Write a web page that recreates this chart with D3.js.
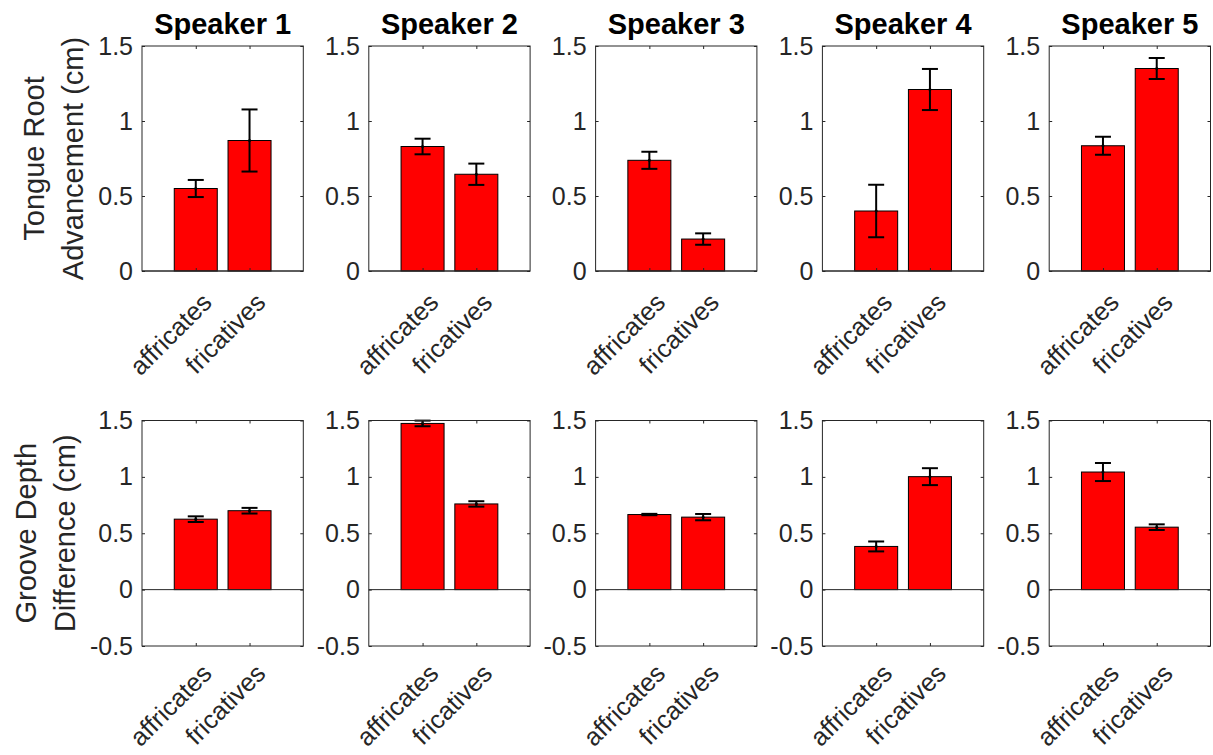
<!DOCTYPE html>
<html>
<head>
<meta charset="utf-8">
<script src="https://cdn.jsdelivr.net/npm/d3@7"></script>
<style>
  body { margin: 0; background: #fff; }
  text { font-family: "Liberation Sans", Arial, Helvetica, sans-serif; }
</style>
</head>
<body>
<div id="chart"></div>
<script>
const speakers = ['Speaker 1', 'Speaker 2', 'Speaker 3', 'Speaker 4', 'Speaker 5']
const categories = ['affricates', 'fricatives']

// tongue root advancement (cm), mean and error per speaker [affricates, fricatives]
const troMeans = [[0.55, 0.87], [0.83, 0.645], [0.738, 0.213], [0.40, 1.21], [0.835, 1.35]]
const troErrs = [[0.057, 0.207], [0.052, 0.071], [0.057, 0.038], [0.175, 0.137], [0.06, 0.07]]

// groove depth difference (cm)
const gddMeans = [[0.625, 0.70], [1.474, 0.76], [0.666, 0.643], [0.383, 1.002], [1.043, 0.554]]
const gddErrs = [[0.025, 0.025], [0.025, 0.024], [0.006, 0.028], [0.044, 0.075], [0.08, 0.025]]

const troTicks = [0, 0.5, 1, 1.5]
const gddTicks = [-0.5, 0, 0.5, 1, 1.5]

const W = 1213, H = 755
const AX = '#262626'

const svg = d3.select('#chart').append('svg')
  .attr('width', W).attr('height', H)

const pw = 161.3      // panel width
const step = 226.8    // left edge spacing
const x0 = 142

const rows = [
  { top: 46, bottom: 271, domain: [0, 1.5], ticks: troTicks, means: troMeans, errs: troErrs,
    label: ['Tongue Root', 'Advancement (cm)'], title: true, lblDy: 33 },
  { top: 420.5, bottom: 646, domain: [-0.5, 1.5], ticks: gddTicks, means: gddMeans, errs: gddErrs,
    label: ['Groove Depth', 'Difference (cm)'], title: false, lblDy: 29 }
]

const x = d3.scaleLinear().domain([0, 3]).range([0, pw])
const fmt = d => (d < 0 ? '-' : '') + String(Math.abs(d))

rows.forEach((row, r) => {
  const ph = row.bottom - row.top
  const y = d3.scaleLinear().domain(row.domain).range([ph, 0])

  speakers.forEach((spk, i) => {
    const g = svg.append('g')
      .attr('transform', 'translate(' + (x0 + i * step) + ',' + row.top + ')')

    const data = categories.map((c, k) => ({ c, k: k + 1, v: row.means[i][k], e: row.errs[i][k] }))

    // bars
    g.append('g').selectAll('rect')
      .data(data)
      .enter().append('rect')
      .attr('x', d => x(d.k - 0.4))
      .attr('width', x(0.8) - x(0))
      .attr('y', d => y(d.v))
      .attr('height', d => y(0) - y(d.v))
      .attr('fill', '#ff0000')
      .attr('stroke', '#000')
      .attr('stroke-width', 1)

    // zero baseline
    g.append('line')
      .attr('x1', 0).attr('x2', pw)
      .attr('y1', y(0)).attr('y2', y(0))
      .attr('stroke', AX).attr('stroke-width', 1)

    // error bars
    const eb = g.append('g').selectAll('g')
      .data(data)
      .enter().append('g')
      .attr('stroke', '#000').attr('stroke-width', 2)
    eb.append('line')
      .attr('x1', d => x(d.k)).attr('x2', d => x(d.k))
      .attr('y1', d => y(d.v - d.e)).attr('y2', d => y(d.v + d.e))
    eb.append('line')
      .attr('x1', d => x(d.k) - 8).attr('x2', d => x(d.k) + 8)
      .attr('y1', d => y(d.v + d.e)).attr('y2', d => y(d.v + d.e))
    eb.append('line')
      .attr('x1', d => x(d.k) - 8).attr('x2', d => x(d.k) + 8)
      .attr('y1', d => y(d.v - d.e)).attr('y2', d => y(d.v - d.e))
    eb.append('circle')
      .attr('cx', d => x(d.k)).attr('cy', d => y(d.v))
      .attr('r', 1.5).attr('fill', '#000').attr('stroke', 'none')

    // axes (ticks inside, box on)
    const yAx = g.append('g')
      .call(d3.axisLeft(y).tickValues(row.ticks).tickFormat(fmt).tickSize(-3).tickSizeOuter(0).tickPadding(9))
    g.append('g').attr('transform', 'translate(' + pw + ',0)')
      .call(d3.axisRight(y).tickValues(row.ticks).tickFormat('').tickSize(-3).tickSizeOuter(0))
    g.append('g')
      .call(d3.axisTop(x).tickValues([1, 2]).tickFormat('').tickSize(-3).tickSizeOuter(0))
    const xAx = g.append('g').attr('transform', 'translate(0,' + ph + ')')
      .call(d3.axisBottom(x).tickValues([1, 2]).tickFormat(d => categories[d - 1]).tickSize(-3).tickSizeOuter(0))

    g.selectAll('.domain').remove()
    g.selectAll('.tick line').attr('stroke', AX)
    g.selectAll('.tick text')
      .attr('fill', AX)
      .style('font-family', '"Liberation Sans", Arial, sans-serif')
      .style('font-size', '25px')

    xAx.selectAll('.tick text')
      .attr('y', null).attr('dy', null)
      .attr('text-anchor', 'end')
      .style('font-size', '25.5px')
      .attr('transform', 'translate(17,' + row.lblDy + ') rotate(-45)')

    g.append('rect')
      .attr('width', pw).attr('height', ph)
      .attr('fill', 'none').attr('stroke', AX).attr('stroke-width', 1)

    if (row.title) {
      g.append('text')
        .attr('x', pw / 2).attr('y', -12)
        .attr('text-anchor', 'middle')
        .style('font-size', '29px').style('font-weight', 'bold')
        .attr('fill', '#000')
        .text(spk)
    }

    // y label on first column
    if (i == 0) {
      let minX = 0
      yAx.selectAll('.tick text').each(function () {
        const b = this.getBBox()
        minX = Math.min(minX, b.x)
      })
      const base2 = minX - 15
      row.label.forEach((t, li) => {
        const bx = li == 0 ? base2 - 39 : base2
        g.append('text')
          .attr('transform', 'translate(' + bx + ',' + (ph / 2) + ') rotate(-90)')
          .attr('text-anchor', 'middle')
          .style('font-size', '29px')
          .attr('fill', AX)
          .text(t)
      })
    }
  })
})
</script>
</body>
</html>
